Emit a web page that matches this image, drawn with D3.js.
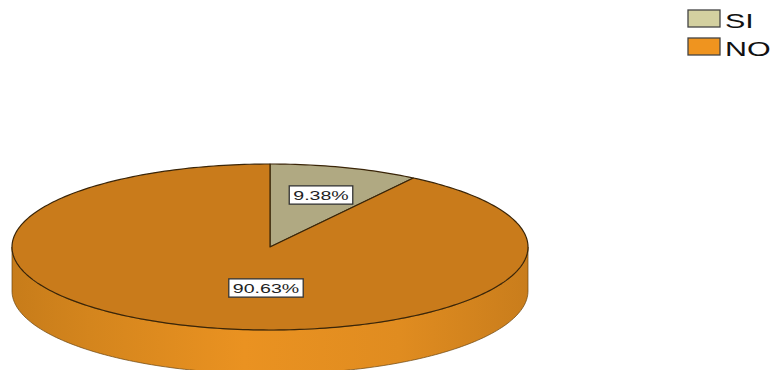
<!DOCTYPE html>
<html><head><meta charset="utf-8">
<script src="https://cdn.jsdelivr.net/npm/d3@7"></script>
<style>body{margin:0;background:#fff}svg{display:block}</style>
</head><body>
<svg id="c" width="776" height="370"></svg>
<script>
const categories = ["SI", "NO"];
const values = [9.38, 90.63];
const labels = ["9.38%", "90.63%"];
const topColors = ["#b0a982", "#c97b1b"];
const legendColors = ["#d3d0a0", "#ef941f"];

const W = 776, H = 370;
const cx = 270, cy = 247, rx = 258, ry = 83, depth = 44;
const SX = 1.45; // horizontal stretch of text
const svg = d3.select("#c");

const pie = d3.pie().sort(null).value(d => d)(values);
const ptX = a => cx + rx * Math.sin(a);
const ptY = (a, dz=0) => cy - ry * Math.cos(a) + dz;

function arcPts(a1, a2, dz) {
  const n = Math.max(2, Math.ceil((a2 - a1) / 0.02));
  return d3.range(n + 1).map(i => { const a = a1 + (a2 - a1) * i / n; return [ptX(a), ptY(a, dz)]; });
}

const defs = svg.append("defs");
const g = defs.append("linearGradient").attr("id", "side").attr("x1", "0").attr("x2", "1").attr("y1", "0").attr("y2", "0");
[[0, "#c77c1a"], [0.15, "#d4851d"], [0.45, "#ea9221"], [0.75, "#e08c20"], [1, "#c97d1c"]].forEach(s =>
  g.append("stop").attr("offset", s[0]).attr("stop-color", s[1]));

const line = d3.line();
pie.forEach((p, i) => {
  const a1 = Math.max(p.startAngle, Math.PI / 2), a2 = Math.min(p.endAngle, 3 * Math.PI / 2);
  if (a2 <= a1) return;
  const top = arcPts(a1, a2, 0), bot = arcPts(a1, a2, depth).reverse();
  svg.append("path").attr("d", line(top.concat(bot)) + "Z")
    .attr("fill", i === 1 ? "url(#side)" : "#9c9670")
    .attr("stroke", "#6a4510").attr("stroke-width", 0.7);
});

pie.forEach((p, i) => {
  const pts = [[cx, cy]].concat(arcPts(p.startAngle, p.endAngle, 0));
  svg.append("path").attr("d", line(pts) + "Z")
    .attr("fill", topColors[i]).attr("stroke", "#3a2508").attr("stroke-width", 1.2).attr("stroke-linejoin", "round");
});

const font = "Liberation Sans, Arial, sans-serif";
const labelPos = [[321, 195], [266, 288]];
pie.forEach((p, i) => {
  const gl = svg.append("g").attr("transform", `translate(${labelPos[i][0]},${labelPos[i][1]})`);
  const inner = gl.append("g").attr("transform", `scale(${SX},1)`);
  const t = inner.append("text").text(labels[i]).attr("text-anchor", "middle").attr("dy", "0.36em")
    .attr("font-family", font).attr("font-size", 13.5).attr("fill", "#222");
  const bb = t.node().getBBox();
  const w = bb.width * SX + 8, h = bb.height + 3;
  gl.insert("rect", "g").attr("x", -w / 2).attr("y", -h / 2).attr("width", w).attr("height", h)
    .attr("fill", "#fff").attr("stroke", "#333").attr("stroke-width", 1.3);
});

const leg = svg.append("g").attr("transform", "translate(688,10)");
categories.forEach((c, i) => {
  const r = leg.append("g").attr("transform", `translate(0,${i * 28})`);
  r.append("rect").attr("width", 32).attr("height", 17).attr("fill", legendColors[i]).attr("stroke", "#444").attr("stroke-width", 1.3);
  r.append("text").attr("transform", `translate(37,17.5) scale(${SX},1)`).text(c)
    .attr("font-family", font).attr("font-size", 21).attr("fill", "#111");
});
</script>
</body></html>
